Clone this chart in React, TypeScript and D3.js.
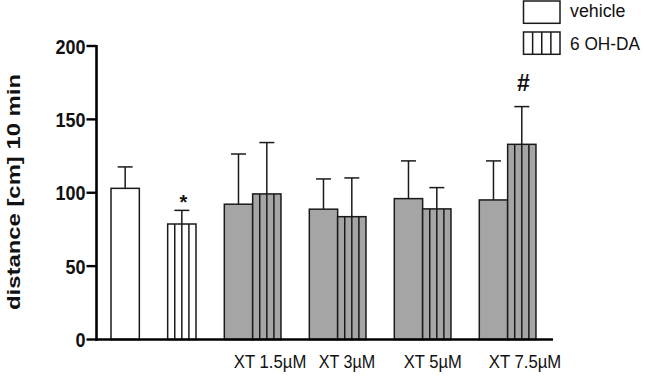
import React from "react";
import * as d3 from "d3";

// ---- data ----
const groups = ["control", "XT 1.5µM", "XT 3µM", "XT 5µM", "XT 7.5µM"];
const groupLabels = ["", "XT 1.5µM", "XT 3µM", "XT 5µM", "XT 7.5µM"];
const series = ["vehicle", "6 OH-DA"];
// bar slots (in bar-width units along the axis)
const barSlots = [0, 2, 4, 5, 7, 8, 10, 11, 13, 14];
const barSeries = [0, 1, 0, 1, 0, 1, 0, 1, 0, 1];
const barGroup = [0, 0, 1, 1, 2, 2, 3, 3, 4, 4];
const means = [103, 78.7, 92.2, 99.2, 88.8, 83.7, 96, 89, 95.1, 133];
const errTops = [117.6, 88, 126.4, 134.2, 109.4, 110.1, 121.7, 103.5, 121.7, 158.7];
const yTicks = [0, 50, 100, 150, 200];
const marks = [
  { bar: 1, text: "*" },
  { bar: 9, text: "#" },
];

const W = 645;
const H = 376;

export default function App() {
  const x = d3.scaleLinear().domain([0, 13]).range([111, 479.3]);
  const unit = x(1) - x(0);
  const y = d3.scaleLinear().domain([0, 200]).range([339.5, 46]);
  const axisX = 96.5;
  const axisEnd = 553;
  const gray = "#a5a5a5";
  const stroke = "#1a1a1a";
  const font = "Liberation Sans, Arial, sans-serif";
  const labelWidths = [0, 72.5, 56.5, 58, 72.5];

  const stripes = (x0: number, x1: number, y0: number, y1: number, n: number, key: string) => {
    const w = (x1 - x0) / n;
    return d3.range(1, n).map((i) => (
      <line key={key + i} x1={x0 + i * w} x2={x0 + i * w} y1={y0} y2={y1} stroke={stroke} strokeWidth={1.5} />
    ));
  };

  return (
    <svg width={W} height={H} style={{ position: "absolute", left: 0, top: 0, background: "#fff" }}>
      <rect x={0} y={0} width={W} height={H} fill="#fff" />
      {/* bars */}
      {barSlots.map((s, i) => {
        const x0 = x(s);
        const x1 = x(s) + unit;
        const yt = y(means[i]);
        const y0 = y(0);
        const isGray = barGroup[i] > 0;
        const cx = (x0 + x1) / 2;
        return (
          <g key={"b" + i}>
            <line x1={cx} x2={cx} y1={yt} y2={y(errTops[i])} stroke={stroke} strokeWidth={1.5} />
            <line x1={cx - 7.5} x2={cx + 7.5} y1={y(errTops[i])} y2={y(errTops[i])} stroke={stroke} strokeWidth={1.5} />
            <rect x={x0} y={yt} width={unit} height={y0 - yt} fill={isGray ? gray : "#fff"} stroke={stroke} strokeWidth={1.5} />
            {barSeries[i] === 1 ? stripes(x0, x1, yt, y0, 4, "s" + i) : null}
          </g>
        );
      })}
      {/* significance marks */}
      {marks.map((m) => {
        const s = barSlots[m.bar];
        const cx = x(s) + unit / 2 + 1.5;
        const ty = y(errTops[m.bar]) - (m.text === "*" ? 1.5 : 15.7);
        return (
          <text key={m.text} x={cx} y={ty} textAnchor="middle" fontFamily={font} fontWeight="bold" fontSize={m.text === "*" ? 20 : 23} fill="#111">
            {m.text}
          </text>
        );
      })}
      {/* axes */}
      <line x1={axisX} x2={axisX} y1={y(200) - 1} y2={y(0) + 1.2} stroke="#000" strokeWidth={2.6} />
      <line x1={axisX - 1.3} x2={axisEnd} y1={y(0)} y2={y(0)} stroke="#000" strokeWidth={2.6} />
      {yTicks.map((t) => {
        const s = String(t);
        return (
          <g key={"t" + t}>
            <line x1={axisX - 10} x2={axisX} y1={y(t)} y2={y(t)} stroke="#000" strokeWidth={2.4} />
            <text
              x={axisX - 11}
              y={y(t) + 7.5}
              textAnchor="end"
              fontFamily={font}
              fontWeight="bold"
              fontSize={21}
              fill="#111"
              textLength={s.length * 10}
              lengthAdjust="spacingAndGlyphs"
            >
              {s}
            </text>
          </g>
        );
      })}
      {/* group labels */}
      {groups.map((g, gi) => {
        if (!groupLabels[gi]) return null;
        const first = barSlots[barGroup.indexOf(gi)];
        return (
          <text
            key={g}
            x={x(first) + 9.5}
            y={367.5}
            textAnchor="start"
            fontFamily={font}
            fontSize={18.5}
            fill="#111"
            textLength={labelWidths[gi]}
            lengthAdjust="spacingAndGlyphs"
          >
            {groupLabels[gi]}
          </text>
        );
      })}
      {/* y label */}
      <g transform="translate(19.5,192) rotate(-90) scale(1,0.8)">
        <text
          x={0}
          y={0}
          textAnchor="middle"
          fontFamily={font}
          fontWeight="bold"
          fontSize={24}
          fill="#111"
          textLength={236}
          lengthAdjust="spacingAndGlyphs"
        >
          distance [cm] 10 min
        </text>
      </g>
      {/* legend */}
      {series.map((s, i) => {
        const ly = 1 + i * 31;
        return (
          <g key={"l" + i}>
            <rect x={523.5} y={ly} width={36.5} height={22.3} fill="#fff" stroke={stroke} strokeWidth={1.5} />
            {i === 1 ? stripes(523.5, 560, ly, ly + 22.3, 4, "ls") : null}
            <text
              x={570}
              y={i === 0 ? 16.7 : 50}
              fontFamily={font}
              fontSize={18}
              fill="#111"
              textLength={i === 0 ? 55.5 : 70}
              lengthAdjust="spacingAndGlyphs"
            >
              {s}
            </text>
          </g>
        );
      })}
    </svg>
  );
}
